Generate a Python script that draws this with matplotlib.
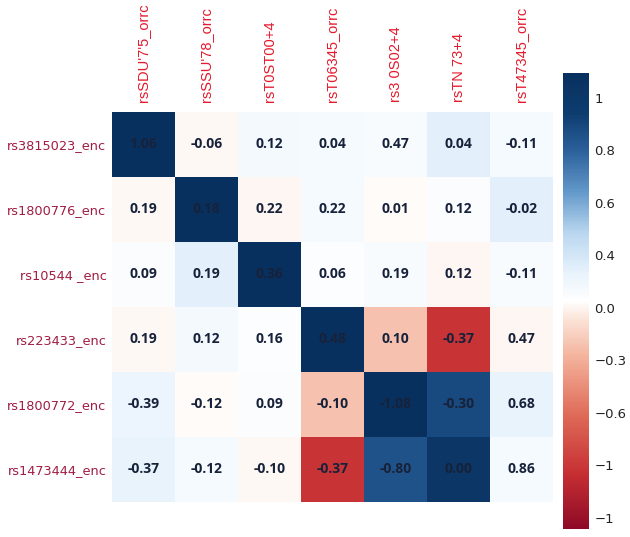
import matplotlib
matplotlib.use("Agg")
import matplotlib.pyplot as plt
from matplotlib.colors import LinearSegmentedColormap
import numpy as np

row_labels = ["rs3815023_enc", "rs1800776_enc", "rs10544 _enc",
              "rs223433_enc", "rs1800772_enc", "rs1473444_enc"]
col_labels = ["rsSDU'7'5_orrc", "rsSSU'78_orrc", "rsT0ST00+4", "rsT06345_orrc",
              "rs3 0S02+4", "rsTN 73+4", "rsT47345_orrc"]

# cell colour values (as seen in the picture)
color_values = [
    [1.00, -0.02, 0.06, 0.05, 0.04, 0.14, 0.05],
    [-0.02, 1.00, -0.03, 0.05, -0.01, 0.03, 0.14],
    [0.03, 0.14, 1.00, 0.02, 0.04, -0.03, 0.04],
    [-0.02, 0.06, 0.02, 1.00, -0.19, -0.74, -0.03],
    [0.10, -0.01, 0.03, -0.19, 1.00, 0.76, 0.12],
    [0.12, 0.05, -0.02, -0.74, 0.72, 0.92, 0.05],
]

# printed annotations
annot_labels = [
    ["1.06", "-0.06", "0.12", "0.04", "0.47", "0.04", "-0.11"],
    ["0.19", "0.18", "0.22", "0.22", "0.01", "0.12", "-0.02"],
    ["0.09", "0.19", "0.36", "0.06", "0.19", "0.12", "-0.11"],
    ["0.19", "0.12", "0.16", "0.48", "0.10", "-0.37", "0.47"],
    ["-0.39", "-0.12", "0.09", "-0.10", "-1.08", "-0.30", "0.68"],
    ["-0.37", "-0.12", "-0.10", "-0.37", "-0.80", "0.00", "0.86"],
]

cbar_ticks = [0.89, 0.66, 0.43, 0.20, -0.03, -0.26, -0.49, -0.72, -0.95]
cbar_ticklabels = ["1", "0.8", "0.6", "0.4", "0.0", "\u22120.3", "\u22120.6", "\u22121", "\u22121"]

cmap = LinearSegmentedColormap.from_list("rdbu_soft", [
    (0.00, "#8e0a26"), (0.12, "#c62f33"), (0.25, "#df6b58"), (0.38, "#f4b49e"),
    (0.46, "#fbe4d8"), (0.50, "#ffffff"), (0.56, "#e8f3fc"), (0.65, "#b9d6ef"),
    (0.74, "#6398ca"), (0.83, "#2c609c"), (0.91, "#0e3d70"), (1.00, "#08305f"),
])

data = np.array(color_values)
nrows, ncols = data.shape

fig = plt.figure(figsize=(6.3, 5.37), dpi=100)
ax = fig.add_axes([0.1778, 0.0657, 0.7, 0.7263])
cax = fig.add_axes([0.8937, 0.0149, 0.0413, 0.8497])

mesh = ax.pcolormesh(np.arange(ncols + 1), np.arange(nrows + 1), data,
                     cmap=cmap, vmin=-1, vmax=1)
ax.set_xlim(0, ncols)
ax.set_ylim(nrows, 0)

for i in range(nrows):
    for j in range(ncols):
        ax.text(j + 0.5, i + 0.5, annot_labels[i][j], ha="center", va="center",
                fontsize=10, fontweight="bold", color="#17223a",
                family=["Open Sans", "DejaVu Sans"])

ax.set_xticks(np.arange(ncols) + 0.5)
ax.set_xticklabels(col_labels, rotation=90, color="#e31a2c", fontsize=10.5,
                   family="Liberation Sans")
ax.xaxis.tick_top()
ax.set_yticks(np.arange(nrows) + 0.5)
ax.set_yticklabels(row_labels, color="#a01c44", fontsize=9.3, family="DejaVu Sans")
ax.tick_params(axis="y", length=0, pad=4)
ax.tick_params(axis="x", length=0, pad=7)
for s in ax.spines.values():
    s.set_visible(False)

cb = fig.colorbar(mesh, cax=cax)
cb.set_ticks(cbar_ticks)
cb.set_ticklabels(cbar_ticklabels)
cb.outline.set_visible(False)
cax.tick_params(length=0, pad=4, labelsize=9.5, labelcolor="#222222")

fig.savefig("out.png", dpi=100)
